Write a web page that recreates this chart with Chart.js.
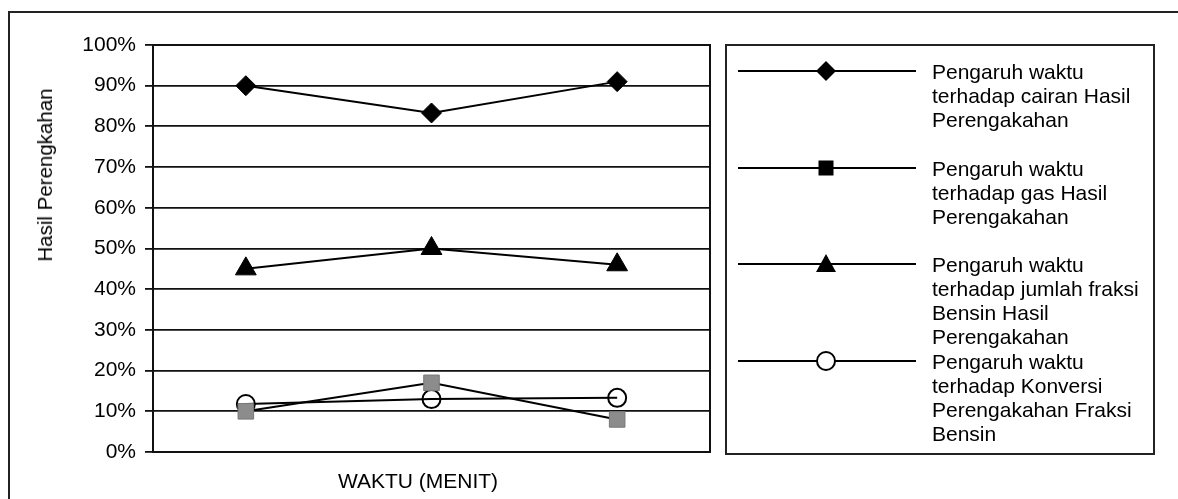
<!DOCTYPE html>
<html>
<head>
<meta charset="utf-8">
<script src="https://cdn.jsdelivr.net/npm/chart.js@4/dist/chart.umd.min.js"></script>
<style>
  html, body { margin: 0; padding: 0; background: #fff; }
  body { width: 1178px; height: 499px; position: relative; overflow: hidden;
         font-family: 'Liberation Sans', Arial, sans-serif; color: #000; }
  #frame { position: absolute; left: 8px; top: 11px; width: 1200px; height: 520px;
           border-left: 2px solid #222; border-top: 2px solid #222; }
  #wrap { position: absolute; left: 0; top: 0; width: 1178px; height: 499px; }
  #ytitle { position: absolute; left: 45px; top: 175px; font-size: 20.5px; white-space: nowrap;
            transform: translate(-50%, -50%) rotate(-90deg); }
  #xtitle { position: absolute; left: 418px; top: 481px; font-size: 21px; white-space: nowrap;
            transform: translate(-50%, -50%); }
  #legend { position: absolute; left: 725px; top: 44px; width: 426px; height: 407px;
            border: 2px solid #222; }
  .item { position: absolute; left: 0; height: 96px; width: 426px; }
  .item svg { position: absolute; left: 11px; top: 0; }
  .item .txt { position: absolute; left: 205px; top: 0; width: 221px; font-size: 21px; line-height: 24px; }
</style>
</head>
<body>
<div id="frame"></div>
<div id="wrap"><canvas id="lineChart"></canvas></div>
<div id="ytitle">Hasil Perengkahan</div>
<div id="xtitle">WAKTU (MENIT)</div>
<div id="legend"></div>
<script>
const categories = ['1', '2', '3'];
const cairan = [90, 83.3, 91];
const gas = [10, 17, 8];
const bensin = [45, 50, 46];
const konversi = [11.8, 13, 13.3];
const yTicks = [0, 10, 20, 30, 40, 50, 60, 70, 80, 90, 100];
const seriesLabels = [
  'Pengaruh waktu terhadap cairan Hasil Perengakahan',
  'Pengaruh waktu terhadap gas Hasil Perengakahan',
  'Pengaruh waktu terhadap jumlah fraksi Bensin Hasil Perengakahan',
  'Pengaruh waktu terhadap Konversi Perengakahan Fraksi Bensin',
];

// draws the border round the plot area
const plotFrame = {
  id: 'plotFrame',
  afterDraw(chart) {
    const { ctx, chartArea: a } = chart;
    ctx.save();
    ctx.strokeStyle = '#111';
    ctx.lineWidth = 2;
    ctx.strokeRect(a.left, a.top, a.right - a.left, a.bottom - a.top);
    ctx.restore();
  },
};

const chart = new Chart(document.getElementById('lineChart'), {
  type: 'line',
  data: {
    labels: categories,
    datasets: [
      {
        label: seriesLabels[0],
        data: cairan,
        borderColor: '#000',
        backgroundColor: '#000',
        borderWidth: 2,
        pointStyle: 'rectRot',
        pointRadius: 10,
        pointBorderWidth: 1,
      },
      {
        label: seriesLabels[1],
        data: gas,
        borderColor: '#000',
        backgroundColor: '#8c8c8c',
        pointBorderColor: '#777',
        borderWidth: 2,
        pointStyle: 'rect',
        pointRadius: 11,
        pointBorderWidth: 1,
      },
      {
        label: seriesLabels[2],
        data: bensin,
        borderColor: '#000',
        backgroundColor: '#000',
        borderWidth: 2,
        pointStyle: 'triangle',
        pointRadius: 12,
        pointBorderWidth: 1,
      },
      {
        label: seriesLabels[3],
        data: konversi,
        borderColor: '#000',
        backgroundColor: 'rgba(255,255,255,0)',
        borderWidth: 2,
        pointStyle: 'circle',
        pointRadius: 9,
        pointBorderWidth: 2,
      },
    ],
  },
  options: {
    responsive: true,
    maintainAspectRatio: false,
    animation: false,
    layout: {
      padding: { left: 0, top: 45, right: 468, bottom: 47 },
    },
    scales: {
      x: {
        offset: true,
        ticks: { display: false },
        grid: { display: false, drawTicks: false },
        border: { display: false },
        afterFit(s) { s.height = 0; },
      },
      y: {
        min: 0,
        max: 100,
        afterBuildTicks(s) { s.ticks = yTicks.map(v => ({ value: v })); },
        ticks: {
          color: '#000',
          padding: 9,
          font: { family: "'Liberation Sans', Arial, sans-serif", size: 21 },
          callback: v => v + '%',
        },
        grid: {
          color: '#111',
          lineWidth: 1.8,
          drawTicks: true,
          tickLength: 8,
          tickColor: '#111',
        },
        border: { color: '#111', width: 2 },
        afterFit(s) { s.width = 153; },
      },
    },
    plugins: {
      legend: { display: false },
      tooltip: { enabled: false },
    },
  },
  plugins: [plotFrame],
});

// legend built from the datasets
function markerSvg(ds) {
  const cx = 88, cy = 11;
  let m = '';
  if (ds.pointStyle === 'rectRot') {
    m = `<polygon points="${cx},${cy - 10} ${cx + 10},${cy} ${cx},${cy + 10} ${cx - 10},${cy}" fill="#000"/>`;
  } else if (ds.pointStyle === 'rect') {
    m = `<rect x="${cx - 7.5}" y="${cy - 7.5}" width="15" height="15" fill="#000"/>`;
  } else if (ds.pointStyle === 'triangle') {
    m = `<polygon points="${cx},${cy - 10} ${cx + 10},${cy + 8} ${cx - 10},${cy + 8}" fill="#000"/>`;
  } else {
    m = `<circle cx="${cx}" cy="${cy}" r="9" fill="#fff" stroke="#000" stroke-width="2"/>`;
  }
  return `<svg width="180" height="24"><line x1="0" y1="${cy}" x2="178" y2="${cy}" stroke="#000" stroke-width="2"/>${m}</svg>`;
}

const legendEl = document.getElementById('legend');
chart.data.datasets.forEach((ds, i) => {
  const item = document.createElement('div');
  item.className = 'item';
  item.style.top = (14 + i * 96.5) + 'px';
  item.innerHTML = markerSvg(ds) + `<div class="txt">${ds.label}</div>`;
  legendEl.appendChild(item);
});
</script>
</body>
</html>
